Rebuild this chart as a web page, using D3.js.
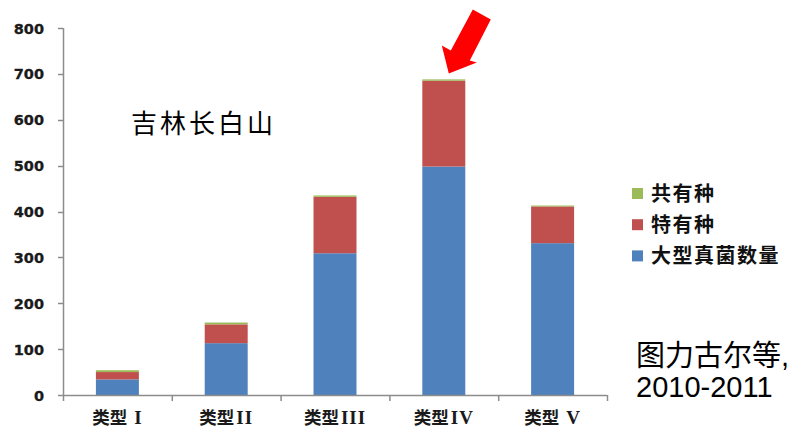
<!DOCTYPE html>
<html><head><meta charset="utf-8">
<script src="https://cdn.jsdelivr.net/npm/d3@7"></script>
<style>body{margin:0;background:#fff}svg{display:block}</style>
</head><body><svg id="c" width="796" height="429"></svg>
<script>
// ---- data ----
const categoryPrefix = "类型";
const numerals = ["I", "II", "III", "IV", "V"];
const fungiCount = [34, 113, 309, 498, 331];   // 大型真菌数量
const endemic    = [16, 41, 123, 187, 80];     // 特有种
const shared     = [4, 4, 3, 3, 2];            // 共有种
const seriesNames = ["大型真菌数量", "特有种", "共有种"];
const seriesColors = ["#4F81BD", "#C0504D", "#9BBB59"];
const yTicks = [0, 100, 200, 300, 400, 500, 600, 700, 800];
const titleText = "吉林长白山";
const sourceLines = ["图力古尔等,", "2010-2011"];

// ---- layout ----
const svg = d3.select("#c");
const L = 63, R = 607, T = 28, B = 395;
const cjk = "'Noto Sans CJK SC','Noto Sans',sans-serif";

const x = d3.scaleBand().domain(numerals).range([L, R]).padding(0);
const y = d3.scaleLinear().domain([0, 800]).range([B, T]);
const barW = x.bandwidth() * 0.395;

const rows = numerals.map((n, i) => ({ key: n, s0: fungiCount[i], s1: endemic[i], s2: shared[i] }));
const stack = d3.stack().keys(["s0", "s1", "s2"])(rows);

// bars
stack.forEach((layer, li) => {
  svg.append("g").selectAll("rect").data(layer).join("rect")
    .attr("x", d => x(d.data.key) + x.bandwidth() / 2 - barW / 2)
    .attr("y", d => y(d[1]))
    .attr("width", barW)
    .attr("height", d => y(d[0]) - y(d[1]))
    .attr("fill", seriesColors[li]);
});

// y axis
const axisColor = "#8c8c8c";
svg.append("line").attr("x1", L + 0.5).attr("x2", L + 0.5).attr("y1", y(800)).attr("y2", B)
  .attr("stroke", axisColor).attr("stroke-width", 1.5);
svg.append("g").selectAll("line").data(yTicks).join("line")
  .attr("x1", L - 5).attr("x2", L).attr("y1", d => Math.round(y(d)) + 0.5).attr("y2", d => Math.round(y(d)) + 0.5)
  .attr("stroke", axisColor).attr("stroke-width", 1.5);
svg.append("g").selectAll("text").data(yTicks).join("text")
  .attr("x", 44).attr("y", d => y(d) + 5.5)
  .attr("text-anchor", "end")
  .attr("font-family", "'DejaVu Sans',sans-serif").attr("font-weight", "bold")
  .attr("font-size", 14.5).attr("fill", "#1a1a1a")
  .attr("stroke", "#1a1a1a").attr("stroke-width", 0.3)
  .text(d => d);

// x axis
svg.append("line").attr("x1", L).attr("x2", R).attr("y1", B + 0.5).attr("y2", B + 0.5)
  .attr("stroke", axisColor).attr("stroke-width", 1.5);
const bounds = numerals.map(n => x(n)).concat([R]);
svg.append("g").selectAll("line").data(bounds).join("line")
  .attr("x1", d => d + 0.5).attr("x2", d => d + 0.5).attr("y1", B).attr("y2", B + 6)
  .attr("stroke", axisColor).attr("stroke-width", 1.5);
const xl = svg.append("g").selectAll("text").data(numerals).join("text")
  .attr("x", d => x(d) + x.bandwidth() / 2)
  .attr("y", 424)
  .attr("text-anchor", "middle")
  .attr("font-weight", "bold").attr("fill", "#1a1a1a");
xl.append("tspan").attr("font-family", cjk).attr("font-size", 17.5).text(categoryPrefix);
xl.append("tspan").attr("font-family", "'Liberation Serif',serif").attr("font-size", 19)
  .attr("dx", (d, i) => (i === 0 || i === 4) ? 7 : 2)
  .attr("letter-spacing", 1)
  .text(d => d);

// legend
const legendOrder = [2, 1, 0];
const lg = svg.append("g").selectAll("g").data(legendOrder).join("g")
  .attr("transform", (d, i) => `translate(632,${194 + i * 31.2})`);
lg.append("rect").attr("x", 0).attr("y", -6).attr("width", 11).attr("height", 11)
  .attr("fill", d => seriesColors[d]);
lg.append("text").attr("x", 19).attr("y", 7)
  .attr("font-family", cjk).attr("font-weight", "bold").attr("font-size", 20)
  .attr("letter-spacing", 1.5).attr("fill", "#111")
  .text(d => seriesNames[d]);

// title
svg.append("text").attr("x", 131).attr("y", 133)
  .attr("font-family", cjk).attr("font-size", 26).attr("letter-spacing", 3).attr("fill", "#000")
  .text(titleText);

// source
svg.append("g").selectAll("text").data(sourceLines).join("text")
  .attr("x", 636).attr("y", (d, i) => 366 + i * 31)
  .attr("font-family", "'Liberation Sans'," + cjk).attr("font-size", 29).attr("fill", "#000")
  .text(d => d);

// red arrow pointing to top of bar IV
const tipX = x("IV") + x.bandwidth() / 2 + 5;
const tipY = y(fungiCount[3] + endemic[3] + shared[3]) - 6;
const arrowShape = [[0, 0], [-7, -28], [2, -23], [24, -64], [42, -54], [21, -13], [28, -11]];
svg.append("polygon")
  .attr("points", arrowShape.map(p => [tipX + p[0], tipY + p[1]].join(",")).join(" "))
  .attr("fill", "#FF0000");
</script></body></html>
